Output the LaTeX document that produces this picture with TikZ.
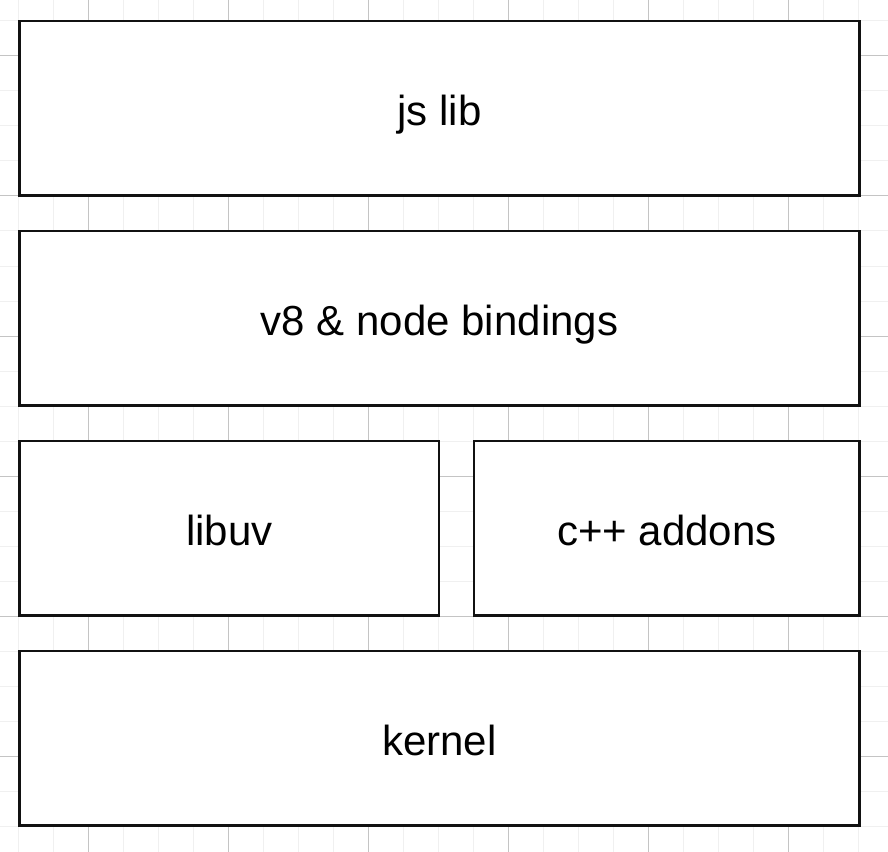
\documentclass[tikz,border=0pt]{standalone}
\usepackage{fontspec}
\setmainfont{Liberation Sans}
\tikzset{
  layer/.style={draw={rgb,255:red,17;green,17;blue,17}, line width=1.9pt, fill=white,
    inner sep=0pt, minimum height=130.9pt, text height=30pt, text depth=4.5pt,
    font=\fontsize{31.5}{38}\selectfont},
  minorgrid/.style={color={rgb,255:red,240;green,240;blue,240}, line width=0.75pt},
  majorgrid/.style={color={rgb,255:red,196;green,196;blue,196}, line width=0.75pt}
}
\begin{document}
\begin{tikzpicture}[x=0.75pt,y=0.75pt,yscale=-1,xscale=1]
\useasboundingbox (0,0) rectangle (888,852);
\fill[white] (0,0) rectangle (888,852);

%Grid
\foreach \i in {0,...,24} {
  \draw[minorgrid] (18.33+35*\i,0) -- (18.33+35*\i,852);
  \draw[minorgrid] (0,21+35*\i) -- (888,21+35*\i);
}
\foreach \i in {0,...,5} {
  \draw[majorgrid] (88.33+140*\i,0) -- (88.33+140*\i,852);
  \draw[majorgrid] (0,56+140*\i) -- (888,56+140*\i);
}

% Layers
\node[layer, minimum width=630pt] (jslib) at (439.5,108.25) {js lib};
\node[layer, minimum width=630pt] (bindings) at (439.5,318.25) {v8 \& node bindings};
\node[layer, minimum width=314.6pt] (libuv) at (229.25,528.25) {libuv};
\node[layer, minimum width=289.1pt] (addons) at (666.75,528.25) {c++ addons};
\node[layer, minimum width=630pt] (kernel) at (439.5,738.25) {kernel};

\end{tikzpicture}
\end{document}
